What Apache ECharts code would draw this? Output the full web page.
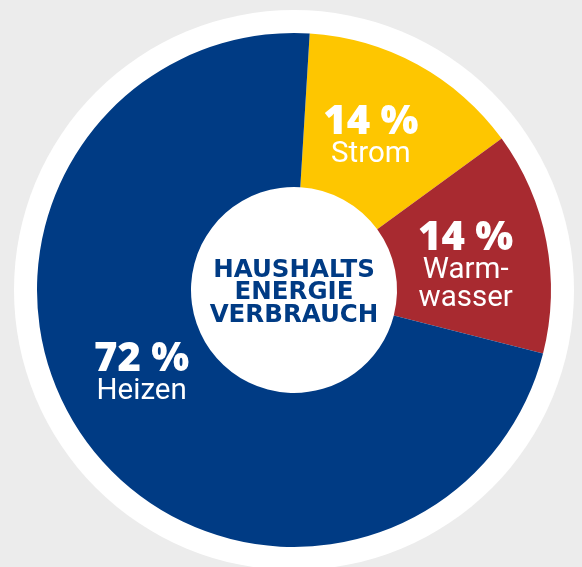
<!DOCTYPE html>
<html>
<head>
<meta charset="utf-8">
<script src="https://cdn.jsdelivr.net/npm/echarts@6/dist/echarts.min.js"></script>
<style>
html,body{margin:0;padding:0;background:#ececec;}
#chart{width:582px;height:567px;}
</style>
</head>
<body>
<div id="chart"></div>
<script>
var categories = ['Strom', 'Warm-\nwasser', 'Heizen'];
var percentLabels = ['14 %', '14 %', '72 %'];
var values = [14, 14, 72];
var colors = ['#fec600', '#a82a30', '#003b84'];
var centerTitle = 'HAUSHALTS\nENERGIE\nVERBRAUCH';

var chart = echarts.init(document.getElementById('chart'), null, {renderer: 'canvas'});

var labelPadding = [[14, 22, 0, 0], [22, 16, 0, 0], [0, 9, 48, 0]];

var data = values.map(function (v, i) {
  return {
    value: v,
    name: categories[i],
    itemStyle: {color: colors[i]},
    label: {
      padding: labelPadding[i],
      formatter: '{v|' + percentLabels[i] + '}\n{n|' + categories[i].replace('\n', '}\n{n|') + '}'
    }
  };
});

chart.setOption({
  backgroundColor: '#ececec',
  animation: false,
  series: [
    {
      type: 'pie',
      silent: true,
      center: [294, 290],
      radius: [0, 280],
      z: 1,
      label: {show: false},
      labelLine: {show: false},
      emphasis: {disabled: true},
      data: [{value: 1, itemStyle: {color: '#ffffff'}}]
    },
    {
      type: 'pie',
      center: [294, 290],
      radius: [103, 257],
      startAngle: 86.5,
      clockwise: true,
      z: 2,
      emphasis: {disabled: true},
      labelLine: {show: false},
      label: {
        show: true,
        position: 'inside',
        align: 'center',
        rich: {
          v: {fontFamily: 'Open Sans', fontWeight: 800, fontSize: 40, color: '#ffffff', lineHeight: 36},
          n: {fontFamily: 'Roboto', fontWeight: 'normal', fontSize: 29.5, color: '#ffffff', lineHeight: 28}
        }
      },
      data: data
    }
  ],
  graphic: [
    {
      type: 'text',
      x: 294,
      y: 293,
      z: 100,
      style: {
        text: centerTitle,
        align: 'center',
        verticalAlign: 'middle',
        fontFamily: 'DejaVu Sans',
        fontWeight: 'bold',
        fontSize: 24.5,
        lineHeight: 22.5,
        fill: '#003b84'
      }
    }
  ]
});
</script>
</body>
</html>
